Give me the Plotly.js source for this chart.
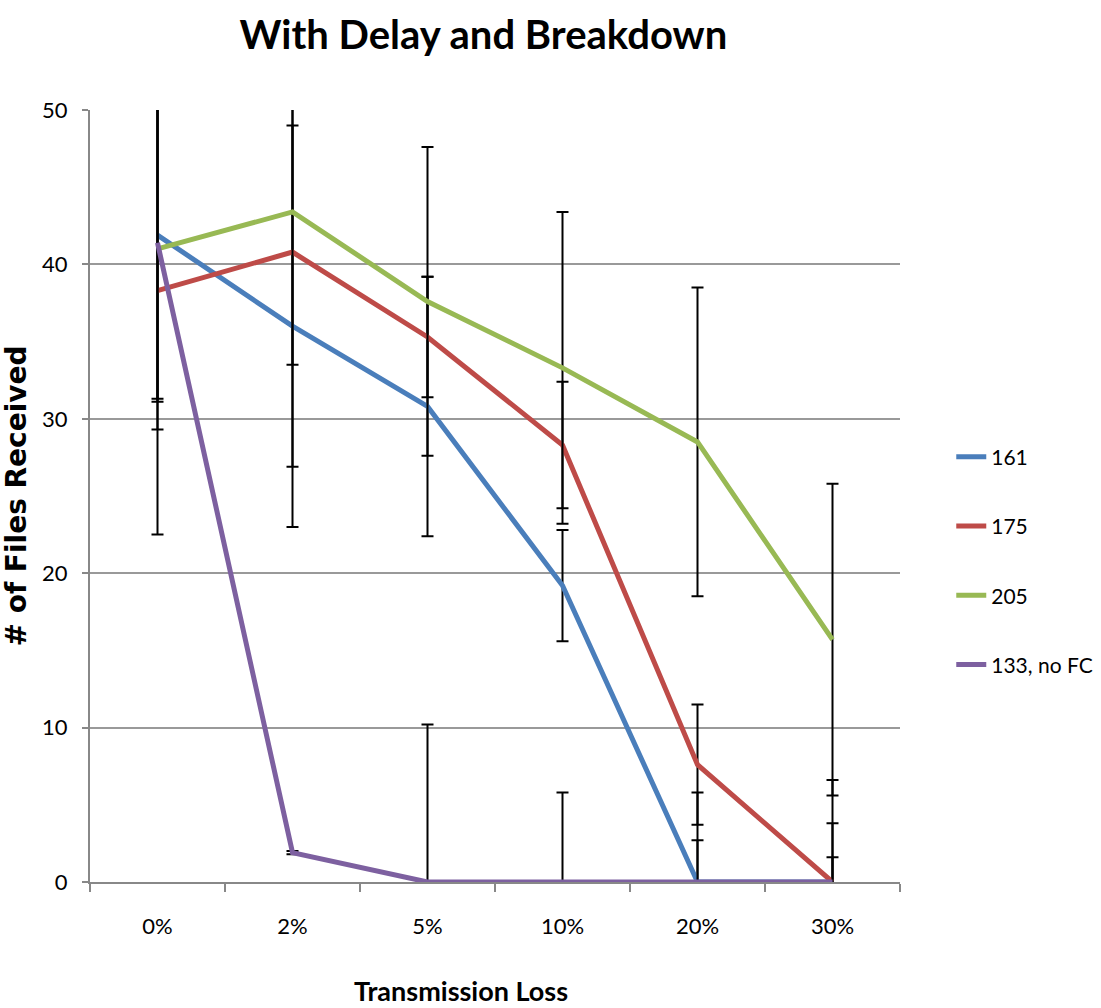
<!DOCTYPE html>
<html>
<head>
<meta charset="utf-8">
<script src="https://cdn.plot.ly/plotly-3.0.1.min.js"></script>
<style>html,body{margin:0;padding:0;background:#fff;}#chart{width:1101px;height:1008px;}</style>
</head>
<body>
<div id="chart"></div>
<script>
const categories = ["0%", "2%", "5%", "10%", "20%", "30%"];
const seriesNames = ["161", "175", "205", "133, no FC"];
const values161 = [41.9, 36.0, 30.8, 19.2, 0, 0];
const err161 = [10.6, 13.0, 8.4, 3.6, 5.8, 3.8];
const values175 = [38.3, 40.8, 35.3, 28.3, 7.6, 0];
const err175 = [15.8, 13.9, 3.9, 4.1, 3.9, 6.6];
const values205 = [41.0, 43.4, 37.6, 33.3, 28.5, 15.7];
const err205 = [9.9, 9.9, 10.0, 10.1, 10.0, 10.1];
const values133 = [41.4, 1.9, 0, 0, 0, 0];
const err133 = [12.1, 0.1, 10.2, 5.8, 2.7, 1.6];
const colors = ["#4a7ebb", "#be4b48", "#98b954", "#7d60a0"];
const xTitle = "Transmission Loss";

const allValues = [values161, values175, values205, values133];
const allErr = [err161, err175, err205, err133];

const traces = allValues.map((v, i) => ({
  type: "scatter",
  mode: "lines",
  x: categories,
  y: v,
  name: seriesNames[i],
  legendgroup: "g" + i,
  line: {color: colors[i], width: 5},
  error_y: {type: "data", array: allErr[i], visible: true, color: "#000", thickness: 2, width: 6}
}));

const layout = {
  width: 1101, height: 1008,
  margin: {l: 90, r: 201, t: 110, b: 126},
  paper_bgcolor: "#fff", plot_bgcolor: "#fff",
  title: {text: "<b>With Delay and Breakdown</b>", font: {family: "Lato, 'Open Sans', sans-serif", size: 40, color: "#000"}, x: 0.439, xanchor: "center", y: 0.965, yanchor: "middle"},
  xaxis: {
    type: "category", range: [-0.5, 5.5], tickson: "boundaries",
    ticks: "outside", ticklen: 8, tickcolor: "#888", tickwidth: 2,
    showline: true, linecolor: "#888", linewidth: 2, showgrid: false,
    tickfont: {family: "Lato, sans-serif", size: 22, color: "#000"},
    ticklabelstandoff: 24
  },
  yaxis: {
    range: [0, 50], dtick: 10, ticks: "outside", ticklen: 6, tickcolor: "#888", tickwidth: 2,
    showline: true, linecolor: "#888", linewidth: 2, gridcolor: "#999", gridwidth: 2, zeroline: false,
    tickfont: {family: "Lato, sans-serif", size: 22, color: "#000"},
    ticklabelstandoff: 10,
    title: {text: "<b># of Files Received</b>", font: {family: "'DejaVu Sans', sans-serif", size: 28, color: "#000"}, standoff: 8}
  },
  annotations: [{
    text: "<b>" + xTitle + "</b>", xref: "paper", yref: "paper", x: 0.458, y: -0.14,
    xanchor: "center", yanchor: "middle", showarrow: false,
    font: {family: "Lato, sans-serif", size: 27, color: "#000"}
  }],
  showlegend: true,
  legend: {xref: "container", x: 0.864, xanchor: "left", y: 0.577, yanchor: "top", traceorder: "grouped", tracegroupgap: 39,
    font: {family: "Lato, sans-serif", size: 21, color: "#000"}, bgcolor: "rgba(0,0,0,0)"}
};

Plotly.newPlot("chart", traces, layout, {displayModeBar: false, staticPlot: true});
</script>
</body>
</html>
